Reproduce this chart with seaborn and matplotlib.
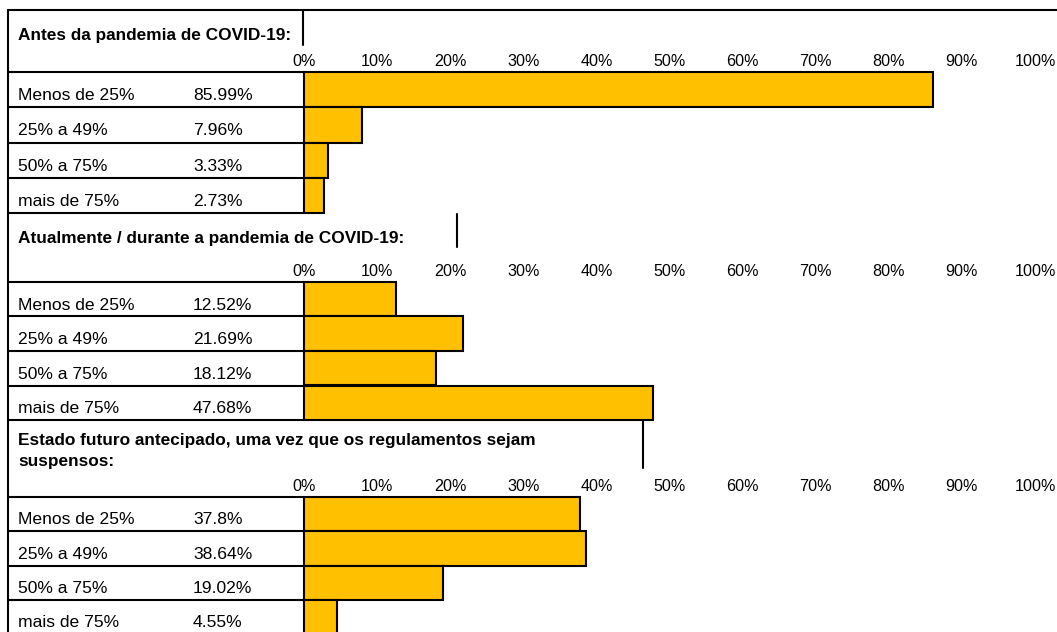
import matplotlib
matplotlib.use("Agg")
import matplotlib.pyplot as plt
import matplotlib.transforms as mtransforms
from matplotlib.lines import Line2D
import numpy as np
import pandas as pd
import seaborn as sns

# Share of work done remotely, per period
categories = ["Menos de 25%", "25% a 49%", "50% a 75%", "mais de 75%"]
antes = [85.99, 7.96, 3.33, 2.73]
durante = [12.52, 21.69, 18.12, 47.68]
futuro = [37.8, 38.64, 19.02, 4.55]
section_titles = [
    "Antes da pandemia de COVID-19:",
    "Atualmente / durante a pandemia de COVID-19:",
    "Estado futuro antecipado, uma vez que os regulamentos sejam\nsuspensos:",
]
tick_values = list(range(0, 101, 10))
tick_labels = [f"{t}%" for t in tick_values]

sns.set_theme(style="white")
plt.rcParams["font.family"] = ["Liberation Sans", "DejaVu Sans"]

W, H = 1057, 632
fig = plt.figure(figsize=(W / 100, H / 100), dpi=100)


def fx(px):
    return px / W


def fy(py):
    return 1 - py / H


BAR_COLOR = "#FFC000"
LINE_W = 1.5
X0, X1 = 304, 1035      # horizontal extent of the 0–100 % scale
LEFT = 8                # left border of the table
LABEL_X, VALUE_X = 18, 193
ROW_FS, TITLE_FS, TICK_FS = 12.6, 12.4, 11.6

layout = [
    dict(values=antes, title_y=40, rule=(303, 10, 45), top=72, bottom=213),
    dict(values=durante, title_y=243, rule=(457, 214, 247), top=282, bottom=420),
    dict(values=futuro, title_y=445, rule=(643, 420, 468), top=497, bottom=634),
]

# outer frame: top rule and left border
fig.add_artist(Line2D([fx(LEFT), 1.0], [fy(10), fy(10)], transform=fig.transFigure,
                      color="black", lw=LINE_W))
fig.add_artist(Line2D([fx(LEFT), fx(LEFT)], [fy(10), fy(H + 5)], transform=fig.transFigure,
                      color="black", lw=LINE_W))

for title, sec in zip(section_titles, layout):
    # section heading (bold, possibly two lines)
    for k, line in enumerate(title.split("\n")):
        fig.text(fx(LABEL_X), fy(sec["title_y"] + 21 * k), line, fontsize=TITLE_FS,
                 fontweight="bold", va="baseline", ha="left", color="black")
    rx, ry0, ry1 = sec["rule"]
    fig.add_artist(Line2D([fx(rx), fx(rx)], [fy(ry0), fy(ry1)], transform=fig.transFigure,
                          color="black", lw=LINE_W))

    top, bottom = sec["top"], sec["bottom"]
    ax = fig.add_axes([fx(X0), fy(bottom), fx(X1) - fx(X0), (bottom - top) / H])
    df = pd.DataFrame({"faixa": categories, "pct": sec["values"]})
    sns.barplot(data=df, y="faixa", x="pct", orient="h", color=BAR_COLOR,
                saturation=1, edgecolor="black", linewidth=LINE_W, width=1.0, ax=ax)
    for p in ax.patches:
        p.set_clip_on(False)
    ax.set_xlim(0, 100)
    ax.set_ylim(len(categories) - 0.5, -0.5)
    ax.xaxis.tick_top()
    ax.set_xticks(tick_values, tick_labels)
    ax.tick_params(axis="x", length=0, pad=2, labelsize=TICK_FS, labelcolor="black")
    ax.set_yticks([])
    ax.set_xlabel("")
    ax.set_ylabel("")
    ax.grid(False)
    for s in ax.spines.values():
        s.set_visible(False)
    ax.patch.set_alpha(0)

    # table part on the left: category, value and row rules
    trans = mtransforms.blended_transform_factory(fig.transFigure, ax.transData)
    for i, (cat, v) in enumerate(zip(categories, sec["values"])):
        ax.text(fx(LABEL_X), i + 0.3, cat, transform=trans, fontsize=ROW_FS,
                va="baseline", ha="left", color="black")
        ax.text(fx(VALUE_X), i + 0.3, f"{v:g}%", transform=trans, fontsize=ROW_FS,
                va="baseline", ha="left", color="black")
    for b in np.arange(-0.5, len(categories), 1.0):
        ax.plot([fx(LEFT), fx(X0)], [b, b], transform=trans, color="black",
                lw=LINE_W, clip_on=False, solid_capstyle="butt")

fig.savefig("out.png", dpi=100)
